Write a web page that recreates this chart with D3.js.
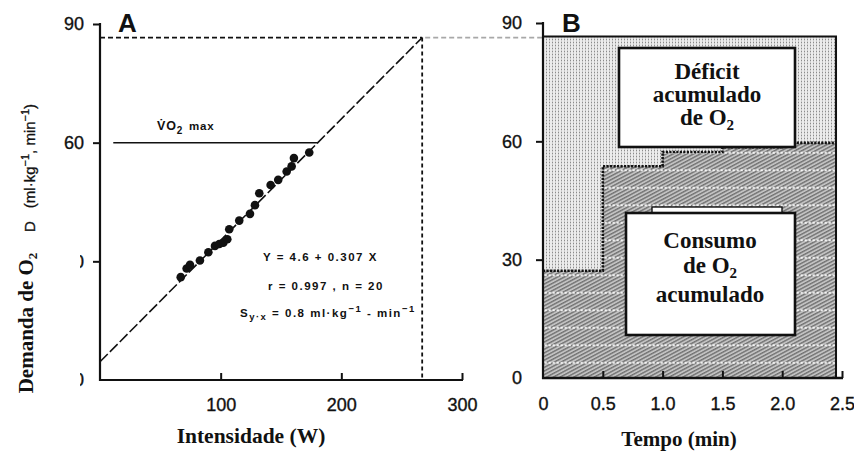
<!DOCTYPE html>
<html>
<head>
<meta charset="utf-8">
<script src="https://cdn.jsdelivr.net/npm/d3@7"></script>
<style>
  body { margin: 0; background: #fff; }
  svg { display: block; }
  .tick text { font-family: "Liberation Sans", Arial, sans-serif; font-size: 18px; fill: #111; stroke: #111; stroke-width: 0.35px; }
</style>
</head>
<body>
<svg id="chart" width="854" height="456"></svg>
<script>
// ---- Panel A: O2 demand vs. power (submaximal tests) ----
const powerW   = [66.9, 71.8, 74.6, 82.8, 89.8, 95.3, 98.9, 102.2, 105.5, 107.1,
                  115.4, 124.3, 128.4, 132.0, 141.4, 147.7, 154.7, 158.8, 160.7, 173.4];
const demandO2 = [26.0, 28.2, 29.1, 30.2, 32.3, 33.9, 34.4, 34.7, 35.6, 38.1,
                  40.3, 42.0, 44.2, 47.2, 49.3, 50.6, 52.7, 54.0, 56.1, 57.5];
const fitIntercept = 4.6;
const fitSlope = 0.307;
const vo2max = 60;
const testPower = 267;                       // supramaximal test intensity (W)
const testDemand = fitIntercept + fitSlope * testPower;
const xTicksA = [100, 200, 300];
const yTicks = [0, 30, 60, 90];

// ---- Panel B: accumulated O2 uptake during the supramaximal test ----
const stepTimes = [0, 0.5, 1.0, 1.5, 2.0, 2.45];
const uptake    = [27.2, 53.7, 57.3, 58.5, 59.6];
const xTicksB = [0, 0.5, 1.0, 1.5, 2.0, 2.5];
const xTickLabelsB = ["0", "0.5", "1.0", "1.5", "2.0", "2.5"];

const svg = d3.select("#chart");
const SANS = "'Liberation Sans', Arial, sans-serif";
const SERIF = "'Liberation Serif', 'Times New Roman', serif";
const INK = "#111";

const xA = d3.scaleLinear().domain([0, 300]).range([100, 462]);
const yA = d3.scaleLinear().domain([0, 90]).range([380, 24]);
const xB = d3.scaleLinear().domain([0, 2.5]).range([543, 842]);
const yB = d3.scaleLinear().domain([0, 90]).range([378, 23]);

// ---------- fill patterns ----------
const defs = svg.append("defs");
const pDot = defs.append("pattern").attr("id", "dotFill")
  .attr("width", 3).attr("height", 3).attr("patternUnits", "userSpaceOnUse");
pDot.append("rect").attr("width", 3).attr("height", 3).attr("fill", "#ececec");
pDot.append("rect").attr("width", 1).attr("height", 3).attr("fill", "#cdcdcd");
pDot.append("rect").attr("width", 1).attr("height", 1).attr("fill", "#8c8c8c");

const pHatch = defs.append("pattern").attr("id", "hatch")
  .attr("width", 4).attr("height", 3.2).attr("patternUnits", "userSpaceOnUse")
  .attr("patternTransform", "rotate(-28)");
pHatch.append("rect").attr("width", 4).attr("height", 3.2).attr("fill", "#c2c2c2");
pHatch.append("rect").attr("width", 4).attr("height", 1.4).attr("fill", "#737373");

const pRows = defs.append("pattern").attr("id", "rows")
  .attr("width", 4).attr("height", 17.5).attr("y", 4).attr("patternUnits", "userSpaceOnUse");
pRows.append("rect").attr("x", 0.6).attr("y", 8).attr("width", 2.2).attr("height", 1.6).attr("fill", "#fff");

// ================= PANEL A =================
const gA = svg.append("g");

// y axis
const axA = gA.append("g").attr("transform", `translate(${xA(0)},0)`)
  .call(d3.axisLeft(yA).tickValues(yTicks).tickSize(7).tickPadding(9).tickFormat(d3.format("d")));
axA.select(".domain").remove();
axA.selectAll(".tick line").attr("stroke", INK).attr("stroke-width", 2);
axA.selectAll(".tick").filter(d => d === 0).select("line").remove();
gA.append("line").attr("x1", xA(0)).attr("x2", xA(0)).attr("y1", yA(90) - 1).attr("y2", yA(0) + 1)
  .attr("stroke", INK).attr("stroke-width", 2.2);

// x axis
const axAx = gA.append("g").attr("transform", `translate(0,${yA(0)})`)
  .call(d3.axisBottom(xA).tickValues(xTicksA).tickSizeInner(-7).tickSizeOuter(0).tickPadding(18));
axAx.select(".domain").remove();
axAx.selectAll(".tick line").attr("stroke", INK).attr("stroke-width", 2);
gA.append("line").attr("x1", xA(0) - 1).attr("x2", xA(300) + 1).attr("y1", yA(0)).attr("y2", yA(0))
  .attr("stroke", INK).attr("stroke-width", 2.2);

// original (partly hidden) axis unit label
const unitLbl = gA.append("text")
  .attr("transform", `translate(35,232) rotate(-90)`)
  .attr("font-family", SANS).attr("font-size", 15).attr("fill", INK)
  .attr("stroke", INK).attr("stroke-width", 0.3);
unitLbl.append("tspan").text("D");
unitLbl.append("tspan").attr("dx", 13).text("(ml·kg");
unitLbl.append("tspan").attr("font-size", 11).attr("dy", -6).text("−1");
unitLbl.append("tspan").attr("dy", 6).text(", min");
unitLbl.append("tspan").attr("font-size", 11).attr("dy", -6).text("−1");
unitLbl.append("tspan").attr("dy", 6).text(")");

// cover band behind the Portuguese axis title
gA.append("rect").attr("x", 0).attr("y", 243).attr("width", 80).attr("height", 160).attr("fill", "#fff");

const yTitle = gA.append("text")
  .attr("transform", `translate(33,323) rotate(-90)`)
  .attr("text-anchor", "middle").attr("font-family", SERIF).attr("font-weight", "bold")
  .attr("font-size", 21).attr("fill", INK);
yTitle.append("tspan").text("Demanda de O");
yTitle.append("tspan").attr("font-size", 13).attr("dy", 4).text("2");

gA.append("text").attr("x", 251).attr("y", 443)
  .attr("text-anchor", "middle").attr("font-family", SERIF).attr("font-weight", "bold")
  .attr("font-size", 21.5).attr("fill", INK).text("Intensidade (W)");

gA.append("text").attr("x", 118).attr("y", 32)
  .attr("font-family", SANS).attr("font-weight", "bold").attr("font-size", 26).attr("fill", INK).text("A");

// dashed guide lines at the test intensity
gA.append("line").attr("x1", xA(0)).attr("x2", xA(testPower))
  .attr("y1", yA(testDemand)).attr("y2", yA(testDemand))
  .attr("stroke", INK).attr("stroke-width", 1.8).attr("stroke-dasharray", "5,3");
gA.append("line").attr("x1", xA(testPower)).attr("x2", xA(testPower))
  .attr("y1", yA(testDemand)).attr("y2", yA(0))
  .attr("stroke", INK).attr("stroke-width", 1.8).attr("stroke-dasharray", "4,3");
// continuation into panel B
svg.append("line").attr("x1", xA(testPower) + 3).attr("x2", xB(0))
  .attr("y1", yA(testDemand)).attr("y2", yA(testDemand))
  .attr("stroke", "#a8a8a8").attr("stroke-width", 1.8).attr("stroke-dasharray", "5,3");

// VO2max level
const vmaxPower = (vo2max - fitIntercept) / fitSlope;
gA.append("line").attr("x1", xA(11)).attr("x2", xA(vmaxPower))
  .attr("y1", yA(vo2max)).attr("y2", yA(vo2max))
  .attr("stroke", INK).attr("stroke-width", 1.5);
const vLbl = gA.append("text").attr("x", 157).attr("y", 130)
  .attr("font-family", SANS).attr("font-weight", "bold").attr("font-size", 12.5).attr("fill", INK)
  .attr("letter-spacing", 0.8);
vLbl.append("tspan").text("V\u0307O");
vLbl.append("tspan").attr("font-size", 10).attr("dy", 4).text("2");
vLbl.append("tspan").attr("font-size", 11.5).attr("dy", -4).attr("dx", 6).text("max");

// regression line
gA.append("line").attr("x1", xA(0)).attr("x2", xA(testPower))
  .attr("y1", yA(fitIntercept)).attr("y2", yA(testDemand))
  .attr("stroke", INK).attr("stroke-width", 1.6).attr("stroke-dasharray", "11,3");

// measured points
gA.append("g").selectAll("circle").data(powerW).join("circle")
  .attr("cx", d => xA(d)).attr("cy", (d, i) => yA(demandO2[i])).attr("r", 4.3).attr("fill", INK);

// regression statistics
const stat = gA.append("g").attr("font-family", SANS).attr("font-weight", "bold")
  .attr("font-size", 11.5).attr("fill", INK).attr("letter-spacing", 1.5);
stat.append("text").attr("x", 263).attr("y", 261).text("Y = 4.6 + 0.307 X");
stat.append("text").attr("x", 268).attr("y", 290).text("r = 0.997 , n = 20");
const s3 = stat.append("text").attr("x", 240).attr("y", 317);
s3.append("tspan").text("S");
s3.append("tspan").attr("font-size", 9.5).attr("dy", 3).text("y·x");
s3.append("tspan").attr("dy", -3).text(" = 0.8 ml·kg");
s3.append("tspan").attr("font-size", 9.5).attr("dy", -5).text("−1");
s3.append("tspan").attr("dy", 5).text(" - min");
s3.append("tspan").attr("font-size", 9.5).attr("dy", -5).text("−1");

// ================= PANEL B =================
const gB = svg.append("g");

// accumulated O2 demand (area of the rectangle)
gB.append("rect").attr("x", xB(0)).attr("y", yB(testDemand))
  .attr("width", xB(stepTimes[stepTimes.length - 1]) - xB(0))
  .attr("height", yB(0) - yB(testDemand)).attr("fill", "url(#dotFill)");

// accumulated O2 uptake (stepped area)
const steps = stepTimes.map((t, i) => ({ t, v: uptake[Math.min(i, uptake.length - 1)] }));
const area = d3.area().x(d => xB(d.t)).y0(yB(0)).y1(d => yB(d.v)).curve(d3.curveStepAfter);
gB.append("path").datum(steps).attr("d", area).attr("fill", "url(#hatch)");
gB.append("path").datum(steps).attr("d", area).attr("fill", "url(#rows)");
const stepLine = d3.line().x(d => xB(d.t)).y(d => yB(d.v)).curve(d3.curveStepAfter);
gB.append("path").datum(steps).attr("d", stepLine)
  .attr("fill", "none").attr("stroke", INK).attr("stroke-width", 2.6).attr("stroke-dasharray", "2.2,1.3");

// demand outline
const tEnd = stepTimes[stepTimes.length - 1];
gB.append("path")
  .attr("d", `M${xB(0)},${yB(testDemand)}H${xB(tEnd)}V${yB(0)}`)
  .attr("fill", "none").attr("stroke", INK).attr("stroke-width", 2);

// axes
const axB = gB.append("g").attr("transform", `translate(${xB(0)},0)`)
  .call(d3.axisLeft(yB).tickValues(yTicks).tickSize(7).tickPadding(14).tickFormat(d3.format("d")));
axB.select(".domain").remove();
axB.selectAll(".tick line").attr("stroke", INK).attr("stroke-width", 2);
axB.selectAll(".tick").filter(d => d === 0).select("line").remove();
gB.append("line").attr("x1", xB(0)).attr("x2", xB(0)).attr("y1", yB(90) - 1).attr("y2", yB(0) + 1)
  .attr("stroke", INK).attr("stroke-width", 2.2);

const axBx = gB.append("g").attr("transform", `translate(0,${yB(0)})`)
  .call(d3.axisBottom(xB).tickValues(xTicksB).tickSizeInner(-7).tickSizeOuter(0).tickPadding(19)
    .tickFormat((d, i) => xTickLabelsB[i]));
axBx.select(".domain").remove();
axBx.selectAll(".tick line").attr("stroke", INK).attr("stroke-width", 2);
axBx.selectAll(".tick").filter(d => d === 0).select("line").remove();
gB.append("line").attr("x1", xB(0) - 1).attr("x2", xB(2.5) + 1).attr("y1", yB(0)).attr("y2", yB(0))
  .attr("stroke", INK).attr("stroke-width", 2.4);

gB.append("text").attr("x", 562).attr("y", 32)
  .attr("font-family", SANS).attr("font-weight", "bold").attr("font-size", 26).attr("fill", INK).text("B");

gB.append("text").attr("x", 679).attr("y", 446)
  .attr("text-anchor", "middle").attr("font-family", SERIF).attr("font-weight", "bold")
  .attr("font-size", 21).attr("fill", INK).text("Tempo (min)");

// labelled boxes
function box(x, y, w, h) {
  gB.append("rect").attr("x", x).attr("y", y).attr("width", w).attr("height", h)
    .attr("fill", "#fff").attr("stroke", INK).attr("stroke-width", 2.6);
}
function boxLines(cx, ys, lines) {
  lines.forEach((ln, i) => {
    const t = gB.append("text").attr("x", cx).attr("y", ys[i]).attr("text-anchor", "middle")
      .attr("font-family", SERIF).attr("font-weight", "bold").attr("font-size", 23).attr("fill", INK);
    if (ln.endsWith("O2")) {
      t.append("tspan").text(ln.slice(0, -1));
      t.append("tspan").attr("font-size", 15).attr("dy", 5).text("2");
    } else {
      t.text(ln);
    }
  });
}
box(619, 48, 176, 99);
boxLines(707, [79, 102, 125], ["Déficit", "acumulado", "de O2"]);

gB.append("rect").attr("x", 652).attr("y", 207).attr("width", 130).attr("height", 6)
  .attr("fill", "#fff").attr("stroke", INK).attr("stroke-width", 1.4);
box(626, 213, 169, 122);
boxLines(710, [248, 273, 302], ["Consumo", "de O2", "acumulado"]);
</script>
</body>
</html>
